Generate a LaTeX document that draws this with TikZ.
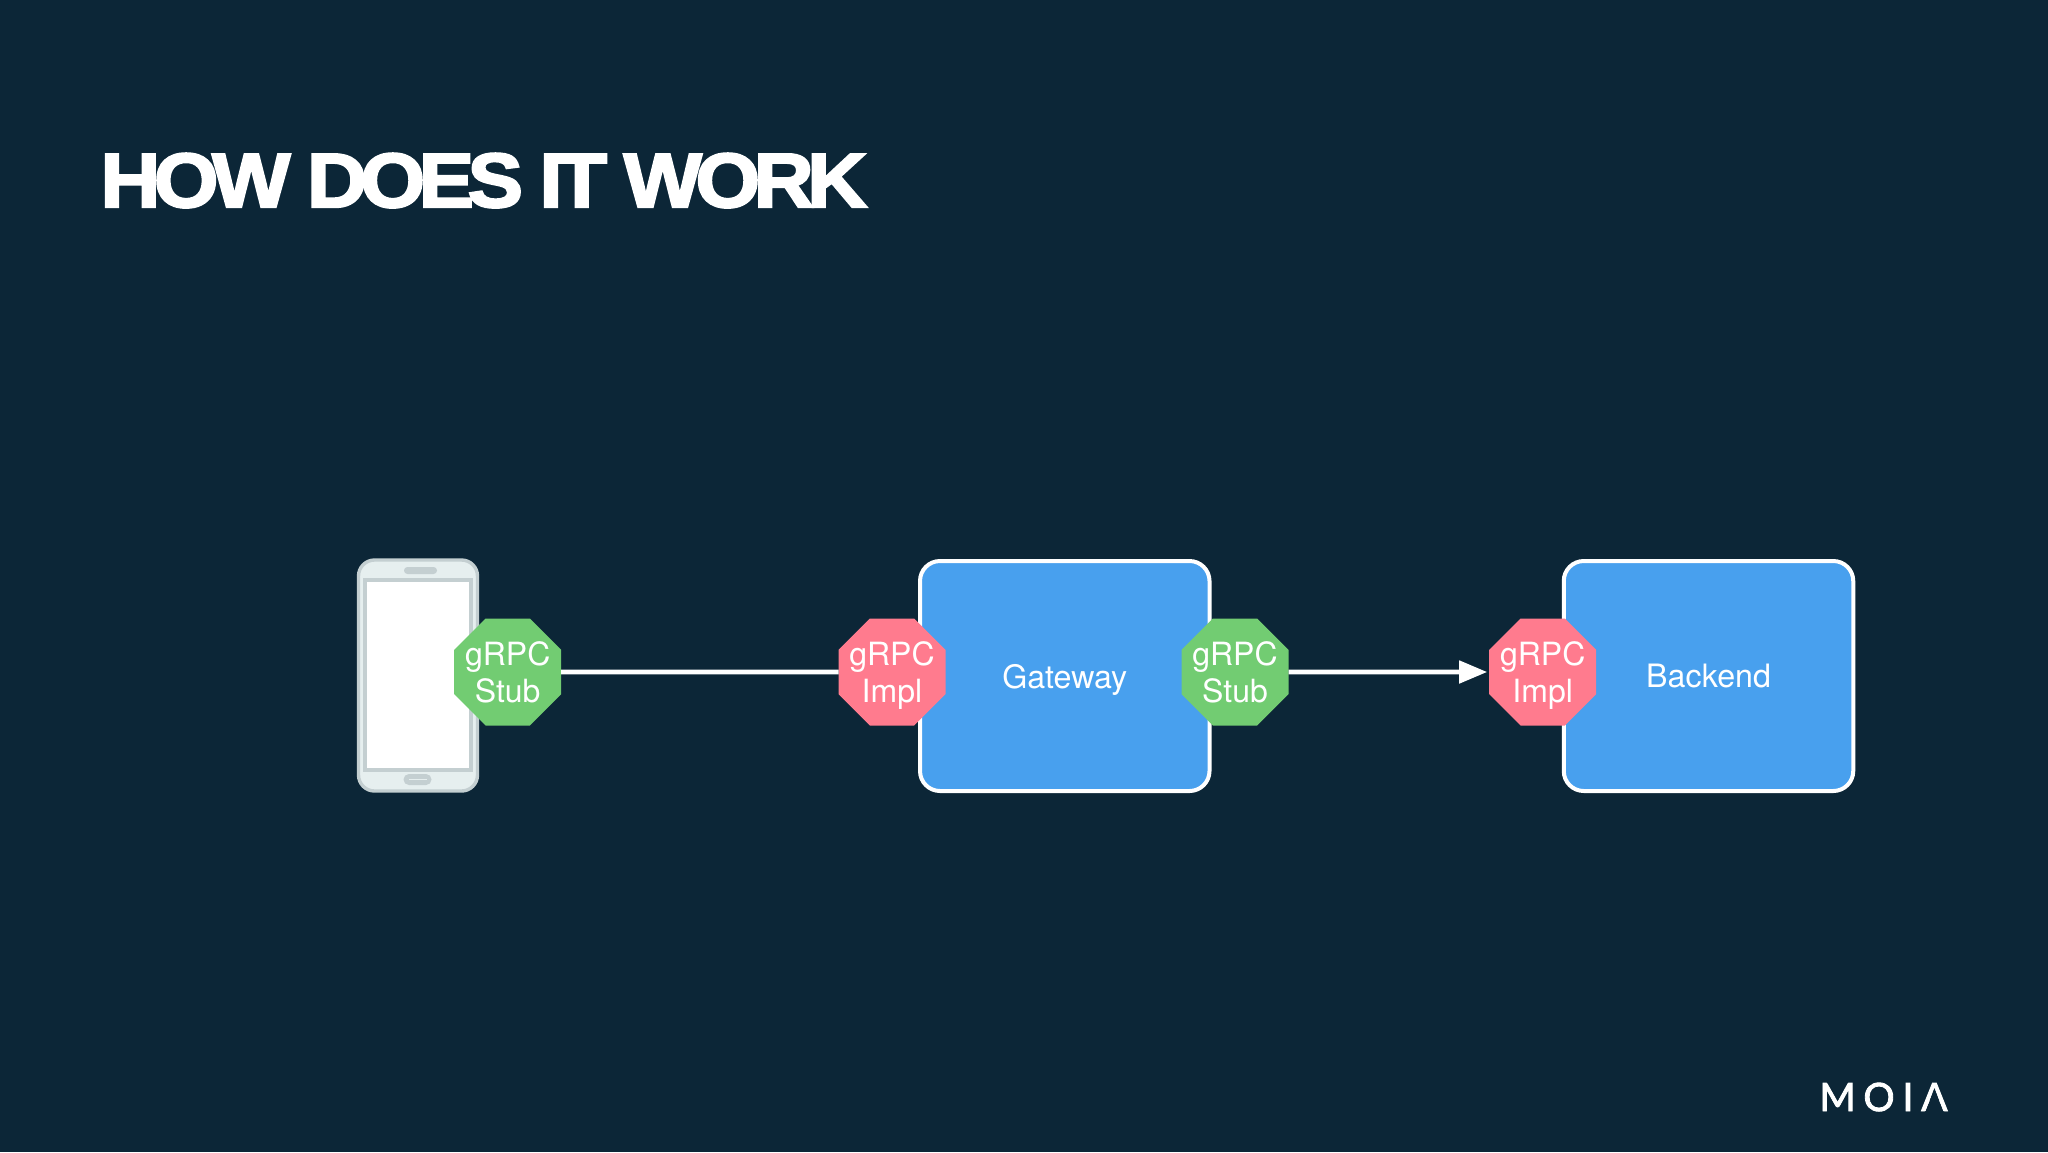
\documentclass[tikz,border=0pt]{standalone}
\usepackage{fontspec}
\usetikzlibrary{shapes.geometric,arrows.meta}
\setmainfont{TeX Gyre Heros}
\newfontfamily\titlefont[LetterSpace=-8.3,FakeBold=3,FakeStretch=1.08]{Liberation Sans Bold}
\newfontfamily\logofont[LetterSpace=20,FakeBold=2.2]{Lato}
\definecolor{bgc}{HTML}{0C2637}
\definecolor{boxblue}{HTML}{48A0EE}
\definecolor{okgreen}{HTML}{72CC72}
\definecolor{pinkred}{HTML}{FF7B8E}
\definecolor{phoneedge}{HTML}{C4CFD1}
\definecolor{phonebody}{HTML}{E6EFEF}
\tikzset{
  octa/.style={regular polygon,regular polygon sides=8,
    minimum size=57.9pt,inner sep=-15pt,outer sep=0pt,text=white,align=center,
    font=\fontsize{16}{18.5}\selectfont},
  stubocta/.style={octa,fill=okgreen},
  implocta/.style={octa,fill=pinkred},
  service/.style={draw=white,line width=2pt,fill=boxblue,rounded corners=10pt,
    minimum width=144.75pt,minimum height=115pt,inner sep=0pt,text=white,text depth=0pt,
    font=\fontsize{16.1}{18.5}\selectfont},
  wire/.style={draw=white,line width=2.4pt},
  phonepart/.style={inner sep=0pt,outer sep=0pt}
}
\newcommand{\toppad}{\rule{0pt}{15.8pt}}
\begin{document}
\begin{tikzpicture}[x=0.5pt,y=-0.5pt]
\fill[bgc] (0,0) rectangle (2048,1152);
\useasboundingbox (0,0) rectangle (2048,1152);
\node[anchor=base west,text=white,inner sep=0pt,font=\titlefont\fontsize{38.4}{40}\selectfont] (title) at (100,207) {HOW DOES IT WORK};
% phone
\node[phonepart,draw=phoneedge,line width=1.7pt,fill=phonebody,rounded corners=8pt,minimum width=59.5pt,minimum height=115.5pt] (phone) at (418,675.5) {};
\node[phonepart,fill=phoneedge,minimum width=55pt,minimum height=97pt] (frame) at (418,675) {};
\node[phonepart,fill=white,minimum width=51pt,minimum height=93pt] (screen) at (418,675) {};
\node[phonepart,fill=phoneedge,rounded corners=1.7pt,minimum width=16.5pt,minimum height=3.5pt] (speaker) at (420.5,570.5) {};
\node[phonepart,fill=phoneedge,rounded corners=2.7pt,minimum width=14pt,minimum height=5.5pt] (homekey) at (417.5,779.5) {};
\node[phonepart,fill=phonebody,minimum width=9pt,minimum height=0.8pt] (homeslot) at (417.5,779.5) {};
% boxes
\node[service] (gateway) at (1064.75,676) {Gateway};
\node[service] (backend) at (1708.5,676) {Backend};
% octagons
\node[stubocta] (s1) at (507.7,672) {\toppad gRPC\\Stub\vphantom{p}};
\node[implocta] (i1) at (892,672) {\toppad gRPC\\Impl};
\node[stubocta] (s2) at (1235,672) {\toppad gRPC\\Stub\vphantom{p}};
\node[implocta] (i2) at (1542.7,672) {\toppad gRPC\\Impl};
% connectors
\draw[wire] (s1) -- (i1);
\draw[wire,-{Triangle[length=14pt,width=11pt]},shorten >=1pt] (s2) -- (i2);
% logo
\node[anchor=base west,text=white,inner sep=0pt,font=\logofont\fontsize{19.5}{20}\selectfont] (logo) at (1819,1111) {MOIA};
\fill[bgc] (1925.5,1112) -- (1943.3,1112) -- (1934.4,1088.2) -- cycle;
\end{tikzpicture}
\end{document}
